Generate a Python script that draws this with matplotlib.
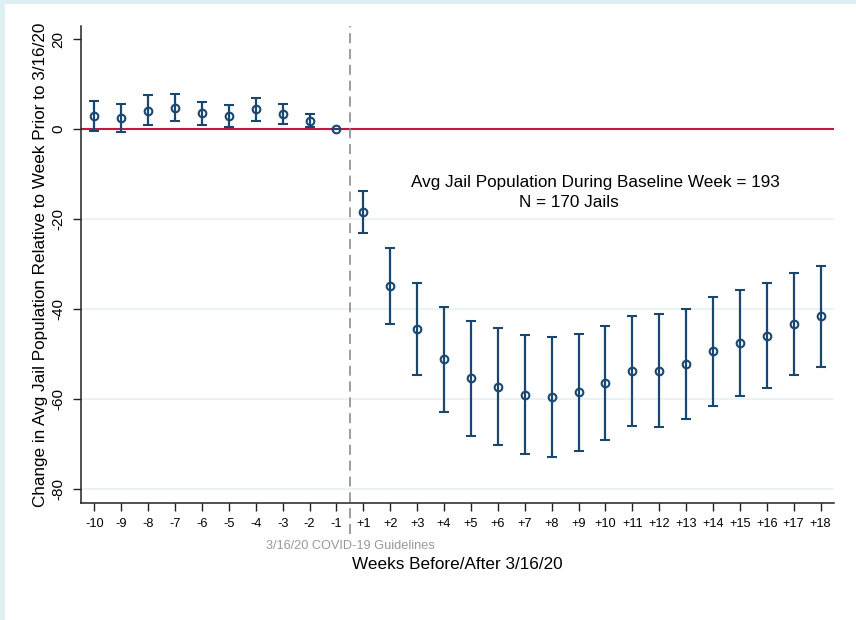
import numpy as np
import matplotlib
matplotlib.use("Agg")
import matplotlib.pyplot as plt
from matplotlib.patches import Rectangle

plt.rcParams['font.family'] = ['Liberation Sans', 'DejaVu Sans']

# Event-study estimates, weeks relative to 3/16/20
week_labels = ['-10', '-9', '-8', '-7', '-6', '-5', '-4', '-3', '-2', '-1',
               '+1', '+2', '+3', '+4', '+5', '+6', '+7', '+8', '+9', '+10',
               '+11', '+12', '+13', '+14', '+15', '+16', '+17', '+18']
coef = [3.0, 2.4, 4.1, 4.7, 3.6, 3.0, 4.4, 3.3, 1.8, 0.0,
        -18.4, -34.9, -44.4, -51.2, -55.4, -57.3, -59.0, -59.5, -58.5, -56.4,
        -53.7, -53.7, -52.2, -49.4, -47.6, -45.9, -43.3, -41.6]
ci_lo = [-0.4, -0.7, 0.8, 1.8, 1.0, 0.5, 1.8, 1.1, 0.4, 0.0,
         -23.0, -43.3, -54.7, -62.9, -68.1, -70.2, -72.3, -72.8, -71.5, -69.1,
         -65.9, -66.1, -64.5, -61.5, -59.3, -57.5, -54.7, -52.8]
ci_hi = [6.3, 5.6, 7.6, 7.8, 6.1, 5.4, 7.0, 5.5, 3.3, 0.0,
         -13.8, -26.5, -34.1, -39.5, -42.7, -44.2, -45.7, -46.2, -45.5, -43.8,
         -41.6, -41.2, -39.9, -37.3, -35.8, -34.3, -32.0, -30.4]
y_ticks = [-80, -60, -40, -20, 0, 20]

navy = '#1a476f'

fig = plt.figure(figsize=(8.56, 6.2), dpi=100)
fig.patch.set_facecolor('#dff0f5')
fig.patches.append(Rectangle((5 / 856, 0), 1, 1 - 4 / 620, transform=fig.transFigure,
                             facecolor='white', edgecolor='none', zorder=-10))

ax = fig.add_axes([81 / 856, 117 / 620, (834 - 81) / 856, (503 - 26) / 620])
ax.set_facecolor('none')

x = np.arange(len(week_labels))
coef = np.array(coef)
yerr = np.vstack([coef - np.array(ci_lo), np.array(ci_hi) - coef])

# light gridlines below zero
for yv in y_ticks:
    if yv < 0:
        ax.axhline(yv, color='#eaf2f3', lw=1.4, zorder=0)

ax.axhline(0, color='#c4173f', lw=1.5, zorder=1)

# event date marker
ax.axvline(9.5, ymin=-0.065, ymax=1, color='#8c8c8c', lw=1.2,
           dashes=(6, 3.5), clip_on=False, zorder=1)

ax.errorbar(x, coef, yerr=yerr, fmt='o', color=navy, ecolor=navy,
            elinewidth=1.6, capsize=3.8, capthick=1.6, markersize=5.5,
            markerfacecolor='none', markeredgewidth=1.5, zorder=3)

ax.set_xlim(-0.5, 27.5)
ax.set_ylim(-83.1, 22.9)
ax.set_xticks(x)
ax.set_xticklabels(week_labels, fontsize=9.2)
ax.set_yticks(y_ticks)
ax.set_yticklabels([str(v) for v in y_ticks], fontsize=11, rotation=90, va='center')
ax.tick_params(axis='both', length=6, width=1, color='#222222', pad=5)

for side in ['top', 'right']:
    ax.spines[side].set_visible(False)
for side in ['left', 'bottom']:
    ax.spines[side].set_color('#222222')
    ax.spines[side].set_linewidth(1.1)

ax.set_ylabel('Change in Avg Jail Population Relative to Week Prior to 3/16/20',
              fontsize=12.3, labelpad=2.5)
ax.set_xlabel('Weeks Before/After 3/16/20', fontsize=12.3, labelpad=19)

ax.text(9.5, -92.6, '3/16/20 COVID-19 Guidelines', fontsize=9.2, color='#999999',
        ha='center', va='center', clip_on=False)

ax.text(18.64, -11.8, 'Avg Jail Population During Baseline Week = 193',
        fontsize=12.3, ha='center', va='center')
ax.text(17.66, -16.4, 'N = 170 Jails', fontsize=12.3, ha='center', va='center')

fig.savefig('out.png', dpi=100, facecolor=fig.get_facecolor())
